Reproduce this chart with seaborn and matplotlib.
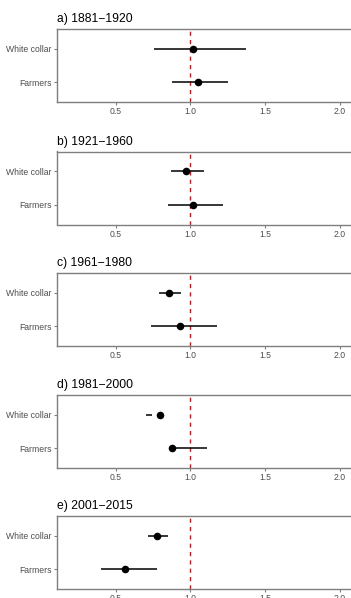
import matplotlib
matplotlib.use("Agg")
import matplotlib.pyplot as plt
import seaborn as sns
import pandas as pd

titles = ["a) 1881\u22121920", "b) 1921\u22121960", "c) 1961\u22121980",
          "d) 1981\u22122000", "e) 2001\u22122015"]
categories = ["White collar", "Farmers"]
wc_est = [1.02, 0.97, 0.86, 0.80, 0.78]
wc_lo = [0.76, 0.87, 0.79, 0.70, 0.72]
wc_hi = [1.37, 1.09, 0.94, 0.745, 0.85]
fa_est = [1.05, 1.02, 0.93, 0.88, 0.56]
fa_lo = [0.88, 0.85, 0.74, 0.86, 0.40]
fa_hi = [1.25, 1.22, 1.18, 1.11, 0.78]
xticks = [0.5, 1.0, 1.5, 2.0]

sns.set_theme(style="white")
plt.rcParams["font.family"] = ["Liberation Sans", "DejaVu Sans"]

W, H = 351, 598
fig = plt.figure(figsize=(W / 100, H / 100), dpi=100)

x0_px = 41.0
unit_px = 149.3
left_px = 57.3
right_px = 352.0
tops = [29.0, 151.5, 273.0, 395.0, 516.0]
box_h = 73.0

for i in range(5):
    top = tops[i]
    ax = fig.add_axes([left_px / W, 1 - (top + box_h) / H,
                       (right_px - left_px) / W, box_h / H])
    df = pd.DataFrame({
        "cat": categories,
        "est": [wc_est[i], fa_est[i]],
        "lo": [wc_lo[i], fa_lo[i]],
        "hi": [wc_hi[i], fa_hi[i]],
    })
    ax.axvline(1.0, color="#b22222", linestyle=(0, (3, 3)), linewidth=1.0, zorder=1)
    ax.hlines(y=df["cat"], xmin=df["lo"], xmax=df["hi"], color="black",
              linewidth=1.1, zorder=2)
    sns.scatterplot(data=df, x="est", y="cat", ax=ax, color="black", s=30,
                    edgecolor="black", linewidth=0, zorder=3)
    ax.set_ylim(1.6, -0.6)
    ax.set_xlim((left_px - x0_px) / unit_px, (right_px - x0_px) / unit_px)
    ax.set_xticks(xticks)
    ax.set_xticklabels([f"{v:.1f}" for v in xticks])
    ax.set_xlabel("")
    ax.set_ylabel("")
    for s in ax.spines.values():
        s.set_color("#7f7f7f")
        s.set_linewidth(1.0)
    ax.tick_params(axis="both", which="both", length=2.5, width=0.8,
                   color="#7f7f7f", labelcolor="#4d4d4d", labelsize=6.2,
                   pad=1.5, bottom=True, left=True)
    ax.tick_params(axis="x", pad=1.2)
    ax.set_title(titles[i], loc="left", fontsize=8.7, color="black", pad=5)

fig.savefig("out.png", dpi=100)
